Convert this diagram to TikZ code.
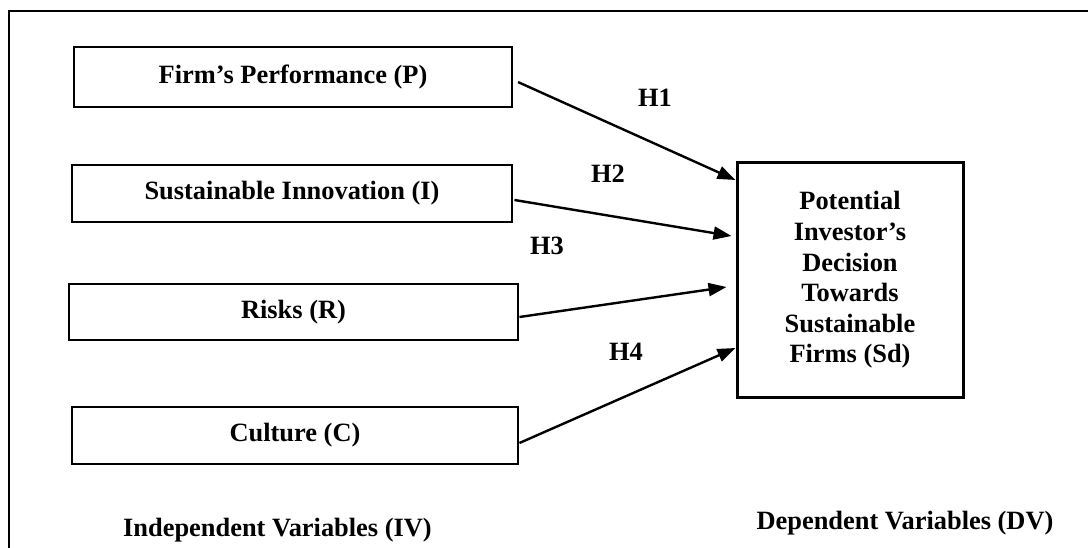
\documentclass[tikz,border=0pt]{standalone}
\usepackage{fontspec}
\setmainfont{Liberation Serif}
\usetikzlibrary{arrows.meta}
\begin{document}
\begin{tikzpicture}[x=1pt,y=-1pt,
  varbox/.style={draw, line width=2.9pt, inner sep=0pt, align=center,
    font=\bfseries\fontsize{26.4}{30.6}\selectfont},
  lbl/.style={inner sep=0pt, font=\bfseries\fontsize{26.4}{30.6}\selectfont},
  link/.style={line width=2.4pt, -{Triangle[length=18pt,width=13pt]}},
]
\useasboundingbox (0,0) rectangle (1088,548);
% open frame: left and top edges only
\coordinate (frameBL) at (9,548);
\coordinate (frameTL) at (9,11);
\coordinate (frameTR) at (1088,11);
\draw[line width=2.2pt] (frameBL) -- (frameTL) -- (frameTR);

% independent variables
\node[varbox, minimum width=438pt, minimum height=60pt] (P) at (293,77) {Firm’s Performance (P)};
\node[varbox, minimum width=440pt, minimum height=57pt] (I) at (292,193.5) {Sustainable Innovation (I)};
\node[varbox, minimum width=449pt, minimum height=56pt] (R) at (293.5,312) {Risks (R)};
\node[varbox, minimum width=446pt, minimum height=57pt] (C) at (295,435.5) {Culture (C)};

% dependent variable
\node[varbox, line width=3pt, minimum width=226pt, minimum height=234pt] (D) at (850,280)
  {Potential\\Investor’s\\Decision\\Towards\\Sustainable\\Firms (Sd)};

% hypotheses
\draw[link, shorten <=5pt] ([yshift=-3pt]P.east) -- ([yshift=100pt]D.west);
\draw[link] ([xshift=1pt,yshift=-6.5pt]I.east) -- ([xshift=-4pt,yshift=44pt]D.west);
\draw[link] ([yshift=-5pt]R.east) -- ([xshift=-9pt,yshift=-7pt]D.west);
\draw[link] ([yshift=-7.5pt]C.east) -- ([yshift=-68pt]D.west);

\node[lbl] (h1) at (655,98) {H1};
\node[lbl] (h2) at (608,174) {H2};
\node[lbl] (h3) at (547,246) {H3};
\node[lbl] (h4) at (626,352) {H4};

% group captions
\node[lbl, anchor=west] (iv) at (123,530) {Independent Variables (IV)};
\node[lbl] (dv) at (905,523) {Dependent Variables (DV)};
\end{tikzpicture}
\end{document}
